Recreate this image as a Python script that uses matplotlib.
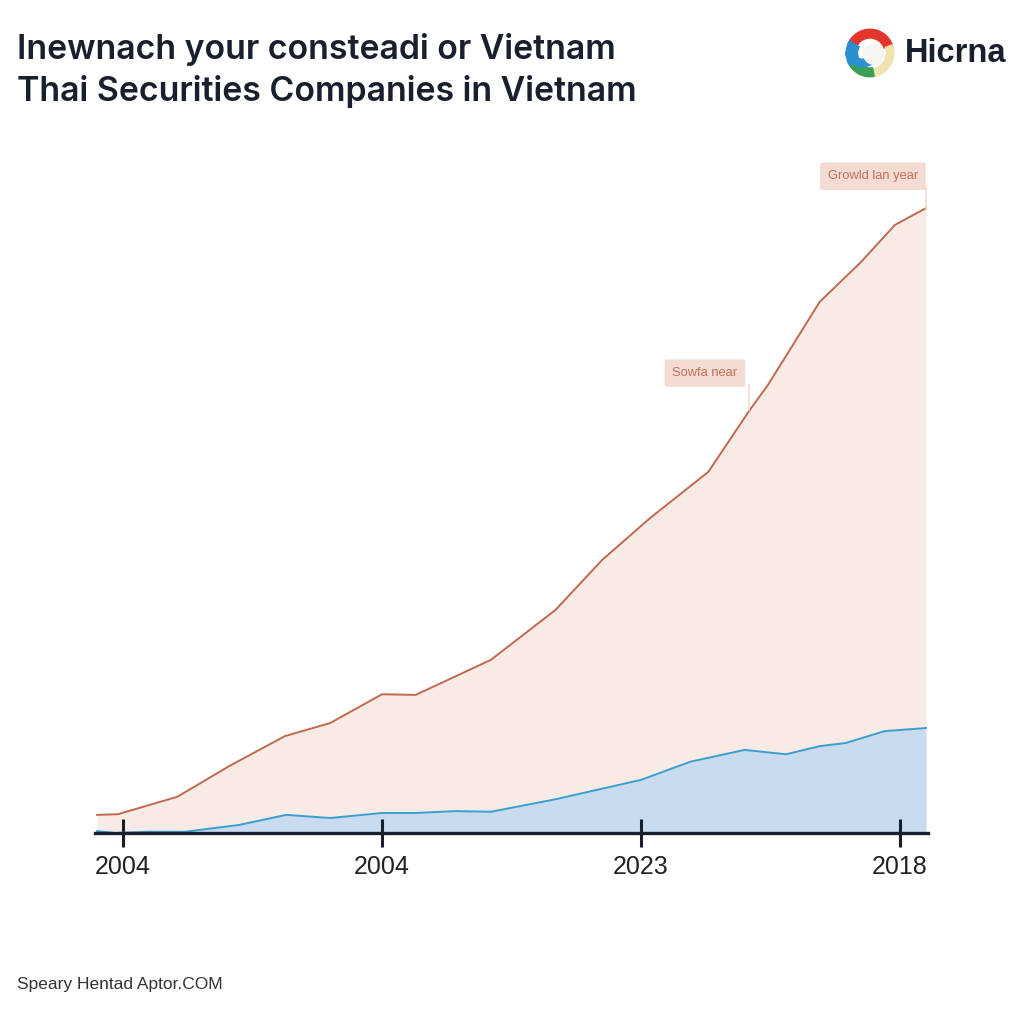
import matplotlib.pyplot as plt
from matplotlib.patches import Wedge, Circle

# values (x in periods, y in relative units)
orange_x = [0, 0.8, 3.1, 5.1, 7.25, 9.0, 11.0, 12.3, 15.2, 17.7, 19.5, 21.35, 23.6, 25.2, 25.9, 27.9, 29.5, 30.8, 32.0]
orange_y = [2.9, 3.0, 5.8, 10.7, 15.5, 17.6, 22.2, 22.1, 27.7, 35.7, 43.7, 50.4, 57.8, 67.7, 71.7, 85.0, 91.4, 97.3, 100.0]

blue_x = [0, 0.7, 2.0, 3.4, 5.5, 7.3, 9.0, 11.0, 12.3, 13.8, 15.2, 16.7, 17.7, 19.4, 21.0, 22.9, 25.0, 26.6, 27.9, 28.9, 30.4, 32.0]
blue_y = [0.3, 0.0, 0.2, 0.2, 1.3, 2.9, 2.4, 3.2, 3.2, 3.5, 3.4, 4.6, 5.4, 7.0, 8.5, 11.4, 13.3, 12.6, 13.9, 14.4, 16.3, 16.8]

tick_pos = [1, 11, 21, 31]
tick_labels = ['2004', '2004', '2023', '2018']

title_lines = ['Inewnach your consteadi or Vietnam', 'Thai Securities Companies in Vietnam']
ann_texts = ['Growld lan year', 'Sowfa near']

dark = '#1a1f2e'
line_orange = '#c0694e'
fill_orange = '#f8ebe6'
line_blue = '#3a9fd0'
fill_blue = '#c9dcef'
box_col = '#f4dcd2'

fig = plt.figure(figsize=(10.24, 10.24), dpi=100)
fig.patch.set_facecolor('white')
ax = fig.add_axes([95/1024, 191/1024, 833/1024, 683/1024])

ax.fill_between(orange_x, orange_y, 0, color=fill_orange, lw=0)
ax.plot(orange_x, orange_y, color=line_orange, lw=1.4)
ax.fill_between(blue_x, blue_y, 0, color=fill_blue, lw=0)
ax.plot(blue_x, blue_y, color=line_blue, lw=1.4)

ax.set_xlim(-0.08, 32.08)
ax.set_ylim(0, 109.3)
for s in ['top', 'left', 'right']:
    ax.spines[s].set_visible(False)
ax.spines['bottom'].set_color(dark)
ax.spines['bottom'].set_linewidth(2.4)
ax.set_yticks([])
ax.set_xticks(tick_pos)
ax.set_xticklabels(tick_labels, fontsize=18, family='Liberation Sans', color='#222222')
ax.tick_params(axis='x', direction='inout', length=20, width=2.2, color=dark, pad=6)

# annotations with connector lines
ax.plot([32.0, 32.0], [100.0, 103.3], color=box_col, lw=1.2)
ax.text(29.95, 105.1, ann_texts[0], ha='center', va='center', fontsize=9.3,
        family='Liberation Sans', color='#c4705a',
        bbox=dict(boxstyle='round,pad=0.6,rounding_size=0.2', fc=box_col, ec='none'))
ax.plot([25.17, 25.17], [67.7, 71.7], color=box_col, lw=1.2)
ax.text(23.47, 73.6, ann_texts[1], ha='center', va='center', fontsize=9.3,
        family='Liberation Sans', color='#c4705a',
        bbox=dict(boxstyle='round,pad=0.6,rounding_size=0.2', fc=box_col, ec='none'))

# title
fig.text(17/1024, 1 - 49/1024, title_lines[0], fontsize=24.4, family='Inter',
         weight='semibold', color=dark, va='center')
fig.text(17/1024, 1 - 91/1024, title_lines[1], fontsize=24.4, family='Inter',
         weight='semibold', color=dark, va='center')

# logo
fig.text(905/1024, 1 - 54/1024, 'Hicrna', fontsize=23.5, family='Liberation Sans',
         weight='bold', color=dark, va='center')
lax = fig.add_axes([845/1024, 1 - 78/1024, 50/1024, 50/1024])
lax.set_xlim(-1, 1)
lax.set_ylim(-1, 1)
lax.set_aspect('equal')
lax.axis('off')
lax.add_patch(Wedge((0, 0), 0.95, 20, 160, width=0.35, color='#e2352c'))
lax.add_patch(Wedge((0, 0), 0.95, 280, 20, width=0.3, color='#f1e2b0'))
lax.add_patch(Wedge((0, 0), 0.95, 200, 280, width=0.35, color='#3a9e55'))
lax.add_patch(Wedge((0, 0), 0.95, 150, 210, width=0.45, color='#2b8fd2'))
lax.add_patch(Wedge((-0.3, 0.15), 0.7, 190, 330, width=0.3, color='#2b8fd2'))
lax.add_patch(Circle((0.15, -0.05), 0.4, color='#f5f5f2'))

# footer
fig.text(17/1024, 1 - 985/1024, 'Speary Hentad Aptor.COM', fontsize=12.5,
         family='Liberation Sans', color='#333333', va='center')

fig.savefig('out.png', dpi=100, facecolor='white')
